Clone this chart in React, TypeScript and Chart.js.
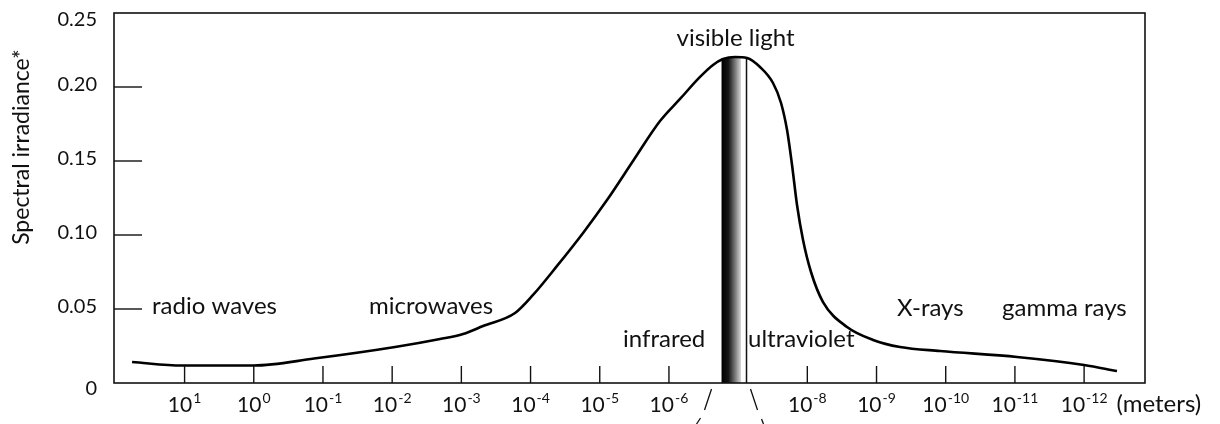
import React, { useEffect, useRef } from "react";
import { Chart, registerables } from "chart.js";

Chart.register(...registerables);

// ---- data ----
// x: log10 of wavelength in meters (axis runs from long to short wavelengths)
// y: spectral irradiance
const curveLogWavelength = [1.759, 1.036, 0.0, -0.871, -2.042, -2.692, -3.025, -3.314, -3.776, -4.036, -4.383, -4.759, -5.105, -5.481, -5.871, -6.16, -6.449, -6.637, -6.782, -6.955, -7.129, -7.316, -7.504, -7.62, -7.707, -7.779, -7.851, -7.938, -8.053, -8.227, -8.574, -8.95, -9.34, -9.918, -11.03, -12.0, -12.475];
const curveIrradiance = [0.0142, 0.0118, 0.0118, 0.0165, 0.0243, 0.0297, 0.0331, 0.0385, 0.0473, 0.0595, 0.0791, 0.1014, 0.1236, 0.15, 0.177, 0.1919, 0.2068, 0.2149, 0.2189, 0.2203, 0.2196, 0.2135, 0.2027, 0.1892, 0.1709, 0.1473, 0.1203, 0.0966, 0.075, 0.0547, 0.0378, 0.0291, 0.0243, 0.0216, 0.0176, 0.0122, 0.0081];

// wavelength decade ticks: 10^exp meters
const tickExponents = [1, 0, -1, -2, -3, -4, -5, -6, -8, -9, -10, -11, -12];
const unitLabel = "(meters)";

const yTicks = [0, 0.05, 0.1, 0.15, 0.2, 0.25];
const yTitle = "Spectral irradiance*";

// spectrum regions (label start, log10 wavelength) and label level (irradiance units)
const regionNames = ["radio waves", "microwaves", "infrared", "ultraviolet", "X-rays", "gamma rays"];
const regionStart = [1.47, -1.666, -5.337, -7.143, -9.296, -10.814];
const regionLevel = [0.0468, 0.0468, 0.024, 0.024, 0.0453, 0.0453];

const visibleName = "visible light";
const visibleLabelAt = -6.962;
const visibleLabelLevel = 0.2277;
const visibleBand = [-6.76, -7.042];
const visibleEdge = -7.121;
const visibleTop = 0.2196;

const X_MIN = -12.88;
const X_MAX = 2.02;

const FONT = "Lato, 'Open Sans', 'DejaVu Sans', sans-serif";
const INK = "#111";

const decor = {
  id: "decor",
  beforeDatasetsDraw(chart: any) {
    const { ctx, chartArea, scales } = chart;
    const x = scales.x;
    const y = scales.y;
    const x0 = x.getPixelForValue(visibleBand[0]);
    const x1 = x.getPixelForValue(visibleBand[1]);
    const yTop = y.getPixelForValue(visibleTop);
    ctx.save();
    const g = ctx.createLinearGradient(x0, 0, x1, 0);
    g.addColorStop(0, "#000");
    g.addColorStop(0.35, "#141414");
    g.addColorStop(0.7, "#7a7a7a");
    g.addColorStop(1, "#d8d8d8");
    ctx.fillStyle = g;
    ctx.fillRect(x0, yTop, x1 - x0, chartArea.bottom - yTop);
    const xl = x.getPixelForValue(visibleEdge);
    ctx.strokeStyle = INK;
    ctx.lineWidth = 1.5;
    ctx.beginPath();
    ctx.moveTo(xl, yTop);
    ctx.lineTo(xl, chartArea.bottom);
    ctx.stroke();
    ctx.restore();
  },
  afterDraw(chart: any) {
    const { ctx, chartArea, scales } = chart;
    const x = scales.x;
    const y = scales.y;
    const { left, right, top, bottom } = chartArea;
    ctx.save();
    ctx.strokeStyle = INK;
    ctx.fillStyle = INK;
    // frame
    ctx.lineWidth = 1.6;
    ctx.strokeRect(left, top, right - left, bottom - top);
    // inner y ticks + y labels
    ctx.lineWidth = 1.4;
    ctx.font = `20px ${FONT}`;
    ctx.textAlign = "right";
    ctx.textBaseline = "middle";
    yTicks.forEach((v, i) => {
      const py = y.getPixelForValue(v);
      const last = i === yTicks.length - 1;
      if (v !== 0 && !last) {
        ctx.beginPath();
        ctx.moveTo(left, py);
        ctx.lineTo(left + 28, py);
        ctx.stroke();
      }
      const ly = v === 0 ? py + 6 : last ? py + 7 : py - 2;
      ctx.fillText(v === 0 ? "0" : v.toFixed(2), left - 17, ly);
    });
    // inner x ticks
    tickExponents.forEach((p) => {
      const px = x.getPixelForValue(p);
      ctx.beginPath();
      ctx.moveTo(px, bottom);
      ctx.lineTo(px, bottom - 17);
      ctx.stroke();
    });
    // x labels: 10^exp
    const baseFont = `21px ${FONT}`;
    const supFont = `14px ${FONT}`;
    const labelFont = `24px ${FONT}`;
    ctx.textBaseline = "alphabetic";
    ctx.textAlign = "left";
    tickExponents.forEach((p, i) => {
      const px = x.getPixelForValue(p);
      const sup = String(p);
      ctx.font = baseFont;
      const wb = ctx.measureText("10").width;
      ctx.font = supFont;
      const ws = ctx.measureText(sup).width;
      const start = px - (wb + 1 + ws) / 2;
      ctx.font = baseFont;
      ctx.fillText("10", start, bottom + 29);
      ctx.font = supFont;
      ctx.fillText(sup, start + wb + 1, bottom + 20);
      if (i === tickExponents.length - 1) {
        ctx.font = labelFont;
        ctx.fillText(unitLabel, start + wb + 1 + ws + 9, bottom + 29);
      }
    });
    // slashes under the visible band
    ctx.lineWidth = 1.3;
    const sl = x.getPixelForValue(visibleBand[0]);
    const sr = x.getPixelForValue(visibleEdge);
    ctx.beginPath();
    ctx.moveTo(sl - 10, bottom + 6);
    ctx.lineTo(sl - 17, bottom + 27);
    ctx.moveTo(sr + 4, bottom + 6);
    ctx.lineTo(sr + 11, bottom + 27);
    ctx.moveTo(sl - 21, bottom + 35);
    ctx.lineTo(sl - 25, bottom + 41);
    ctx.moveTo(sr + 15, bottom + 36);
    ctx.lineTo(sr + 17, bottom + 41);
    ctx.stroke();
    // region labels
    ctx.font = labelFont;
    ctx.textAlign = "left";
    regionNames.forEach((n, i) => {
      ctx.fillText(n, x.getPixelForValue(regionStart[i]), y.getPixelForValue(regionLevel[i]));
    });
    ctx.textAlign = "center";
    ctx.fillText(visibleName, x.getPixelForValue(visibleLabelAt), y.getPixelForValue(visibleLabelLevel));
    // y title
    ctx.translate(22, 147);
    ctx.rotate(-Math.PI / 2);
    ctx.textAlign = "center";
    ctx.textBaseline = "middle";
    ctx.font = `23px ${FONT}`;
    ctx.fillText(yTitle, 0, 0);
    ctx.restore();
  },
};

export default function App() {
  const ref = useRef<HTMLCanvasElement | null>(null);
  useEffect(() => {
    if (!ref.current) return;
    const chart = new Chart(ref.current, {
      type: "line",
      data: {
        datasets: [
          {
            data: curveLogWavelength.map((v, i) => ({ x: v, y: curveIrradiance[i] })),
            borderColor: "#000",
            borderWidth: 2.6,
            pointRadius: 0,
            fill: false,
            cubicInterpolationMode: "monotone",
          },
        ],
      },
      options: {
        animation: false,
        responsive: false,
        layout: { padding: { top: 13, right: 75, left: 0, bottom: 0 } },
        plugins: { legend: { display: false }, tooltip: { enabled: false } },
        scales: {
          x: {
            type: "linear",
            reverse: true,
            min: X_MIN,
            max: X_MAX,
            grid: { display: false, drawTicks: false },
            border: { display: false },
            ticks: { display: false },
            afterFit: (s: any) => {
              s.height = 41;
              s.paddingLeft = 0;
              s.paddingRight = 0;
            },
          },
          y: {
            type: "linear",
            min: 0,
            max: 0.25,
            grid: { display: false, drawTicks: false },
            border: { display: false },
            ticks: { display: false },
            afterFit: (s: any) => {
              s.width = 114;
              s.paddingTop = 0;
              s.paddingBottom = 0;
            },
          },
        },
      },
      plugins: [decor],
    });
    return () => chart.destroy();
  }, []);
  return (
    <div style={{ position: "fixed", left: 0, top: 0, width: 1220, height: 424, background: "#fff" }}>
      <canvas ref={ref} width={1220} height={424} style={{ width: 1220, height: 424 }} />
    </div>
  );
}
